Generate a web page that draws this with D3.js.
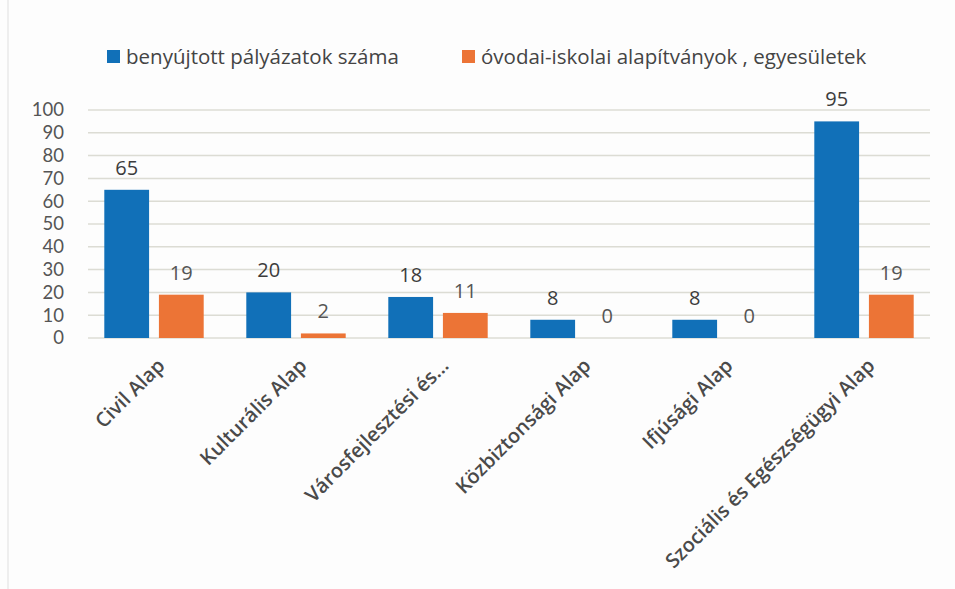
<!DOCTYPE html>
<html lang="hu">
<head>
  <meta charset="utf-8">
  <title>Pályázatok</title>
  <script src="https://cdn.jsdelivr.net/npm/d3@7"></script>
  <style>
    body { margin: 0; background: #fdfdfd; }
    svg { font-family: "Open Sans", Lato, sans-serif; }
  </style>
</head>
<body>
  <script>
  // adatok
  var categories = ["Civil Alap", "Kulturális Alap", "Városfejlesztési és...",
    "Közbiztonsági Alap", "Ifjúsági Alap", "Szociális és Egészségügyi Alap"];
  var seriesNames = ["benyújtott pályázatok száma", "óvodai-iskolai alapítványok , egyesületek"];
  var benyujtott = [65, 20, 18, 8, 8, 95];
  var ovodai = [19, 2, 11, 0, 0, 19];
  var yTicks = [0, 10, 20, 30, 40, 50, 60, 70, 80, 90, 100];
  var colors = ["#1170b8", "#ec7436"];

  var width = 955, height = 589;
  var svg = d3.select("body").append("svg")
    .attr("width", width).attr("height", height);

  // halvány bal oldali keret, mint a szkennelt képen
  svg.append("line")
    .attr("x1", 8).attr("x2", 8).attr("y1", 0).attr("y2", height)
    .attr("stroke", "#e8e8e8").attr("stroke-width", 1.5);

  var x = d3.scaleBand().domain(categories).range([83, 935]).paddingInner(0.3).paddingOuter(0.15);
  var x1 = d3.scaleBand().domain([0, 1]).range([0, x.bandwidth()]).paddingInner(0.18);
  var y = d3.scaleLinear().domain([0, 100]).range([338, 110]);

  // rácsvonalak
  svg.append("g")
    .selectAll("line")
    .data(yTicks)
    .enter().append("line")
    .attr("x1", 88).attr("x2", 930)
    .attr("y1", d => y(d)).attr("y2", d => y(d))
    .attr("stroke", "#dcdcd4").attr("stroke-width", 1.5);

  // y tengely
  var yAxis = svg.append("g")
    .attr("transform", "translate(64,0)")
    .call(d3.axisLeft(y).tickValues(yTicks).tickSize(0).tickPadding(0));
  yAxis.select(".domain").remove();
  yAxis.selectAll("text")
    .attr("font-size", 18.5).attr("fill", "#555").attr("font-family", "Lato, sans-serif");

  var rows = categories.map((c, i) => ({ cat: c, vals: [benyujtott[i], ovodai[i]] }));

  var groups = svg.append("g").selectAll("g")
    .data(rows)
    .enter().append("g")
    .attr("transform", d => `translate(${x(d.cat)},0)`);

  groups.selectAll("rect")
    .data(d => d.vals.map((v, k) => ({ v: v, k: k })))
    .enter().append("rect")
    .attr("x", d => x1(d.k))
    .attr("width", x1.bandwidth())
    .attr("y", d => y(d.v))
    .attr("height", d => y(0) - y(d.v))
    .attr("fill", d => colors[d.k]);

  groups.selectAll("text")
    .data(d => d.vals.map((v, k) => ({ v: v, k: k })))
    .enter().append("text")
    .attr("x", d => x1(d.k) + x1.bandwidth() / 2)
    .attr("y", d => y(d.v) - 15)
    .attr("text-anchor", "middle")
    .attr("font-size", 20)
    .attr("fill", d => d.k === 0 ? "#3c3c3c" : "#555")
    .text(d => d.v);

  // x tengely feliratok (döntve)
  svg.append("g").selectAll("text")
    .data(categories)
    .enter().append("text")
    .attr("transform", d => `translate(${x(d) + x.bandwidth() / 2 + 7},362) rotate(-45)`)
    .attr("text-anchor", "end")
    .attr("dy", "0.35em")
    .attr("font-size", 20)
    .attr("font-weight", 600)
    .attr("fill", "#4a4a4a")
    .text(d => d);

  // jelmagyarázat
  var legendX = [107, 462];
  var legend = svg.append("g").selectAll("g")
    .data(seriesNames)
    .enter().append("g")
    .attr("transform", (d, i) => `translate(${legendX[i]},50)`);
  legend.append("rect")
    .attr("width", 13).attr("height", 13)
    .attr("fill", (d, i) => colors[i]);
  legend.append("text")
    .attr("x", 19).attr("y", 13.5)
    .attr("font-size", 20.5)
    .attr("fill", "#444")
    .text(d => d);
  </script>
</body>
</html>
